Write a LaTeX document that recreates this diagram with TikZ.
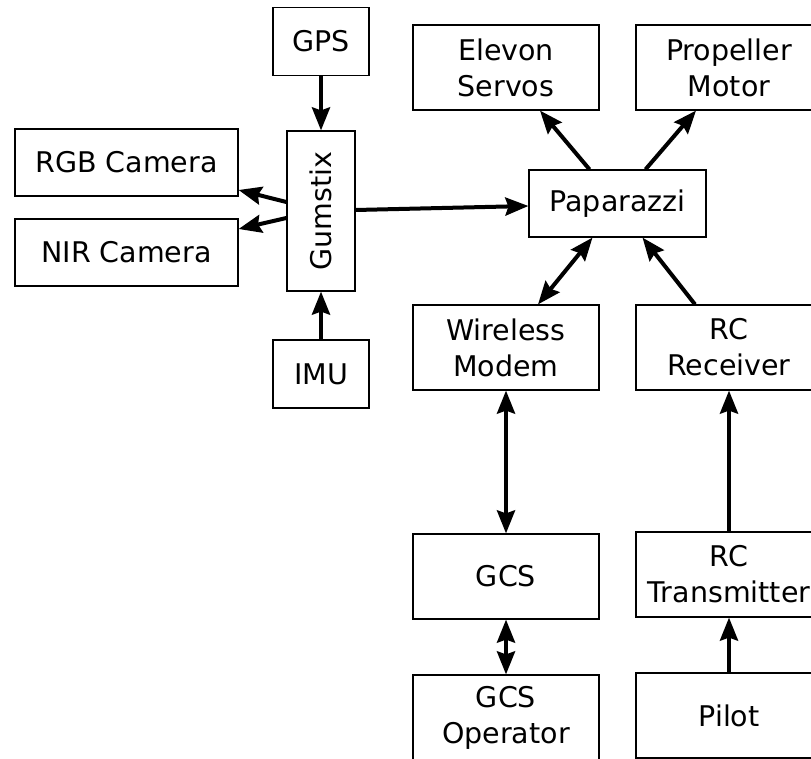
\documentclass[tikz,border=0pt]{standalone}
\usepackage{fontspec}
\setmainfont{DejaVu Sans}
\usetikzlibrary{arrows.meta}
\tikzset{
  blk/.style={draw,line width=1.2pt,inner sep=0pt,align=center,
    font=\fontsize{28.5}{36}\selectfont},
  link/.style={line width=4pt,-{Stealth[length=23pt,width=18pt,inset=3pt]}},
  dlink/.style={line width=4pt,{Stealth[length=23pt,width=18pt,inset=3pt]}-{Stealth[length=23pt,width=18pt,inset=3pt]}}
}
\begin{document}
\begin{tikzpicture}[x=1pt,y=-1pt]
      \useasboundingbox (0,0) rectangle (811,759);
      \draw
        (321,41.5) node[blk,minimum width=96,minimum height=68] (gps){GPS}
        (126.5,162.5) node[blk,minimum width=223,minimum height=67] (rgb){RGB Camera}
        (126.5,252.5) node[blk,minimum width=223,minimum height=67] (nir){NIR Camera}
        (321,211) node[blk,minimum width=160,minimum height=68,rotate=90] (gum){Gumstix}
        (321,374) node[blk,minimum width=96,minimum height=68] (imu){IMU}
        (506,67.5) node[blk,minimum width=186,minimum height=85] (elev){Elevon\\Servos}
        (729,67.5) node[blk,minimum width=186,minimum height=85] (prop){Propeller\\Motor}
        (617.5,203.5) node[blk,minimum width=177,minimum height=67] (papa){Paparazzi}
        (506,347.5) node[blk,minimum width=186,minimum height=85] (modem){Wireless\\Modem}
        (729,347.5) node[blk,minimum width=186,minimum height=85] (rcrx){RC\\Receiver}
        (506,576.5) node[blk,minimum width=186,minimum height=85] (gcs){GCS}
        (729,574.5) node[blk,minimum width=186,minimum height=85] (rctx){RC\\Transmitter}
        (506,717.5) node[blk,minimum width=186,minimum height=85] (oper){GCS\\Operator}
        (729,715.5) node[blk,minimum width=186,minimum height=85] (pilot){Pilot};
      \begin{scope}[link]
        \draw (gps) to (gum);
        \draw (imu) to (gum);
        \draw ([yshift=9]gum.north) to ([yshift=-27.5]rgb.east);
        \draw ([yshift=-7]gum.north) to ([yshift=23.5]nir.east);
        \draw ([yshift=1]gum.south) to ([yshift=-2.5]papa.west);
        \draw ([xshift=-28]papa.north) to ([xshift=34]elev.south);
        \draw ([xshift=28]papa.north) to ([xshift=-33]prop.south);
        \draw ([xshift=-34]rcrx.north) to ([xshift=25]papa.south);
        \draw (rctx) to (rcrx);
        \draw (pilot) to (rctx);
      \end{scope}
      \begin{scope}[dlink]
        \draw ([xshift=-25]papa.south) to ([xshift=32]modem.north);
        \draw (modem) to (gcs);
        \draw (gcs) to (oper);
      \end{scope}
    \end{tikzpicture}
\end{document}
